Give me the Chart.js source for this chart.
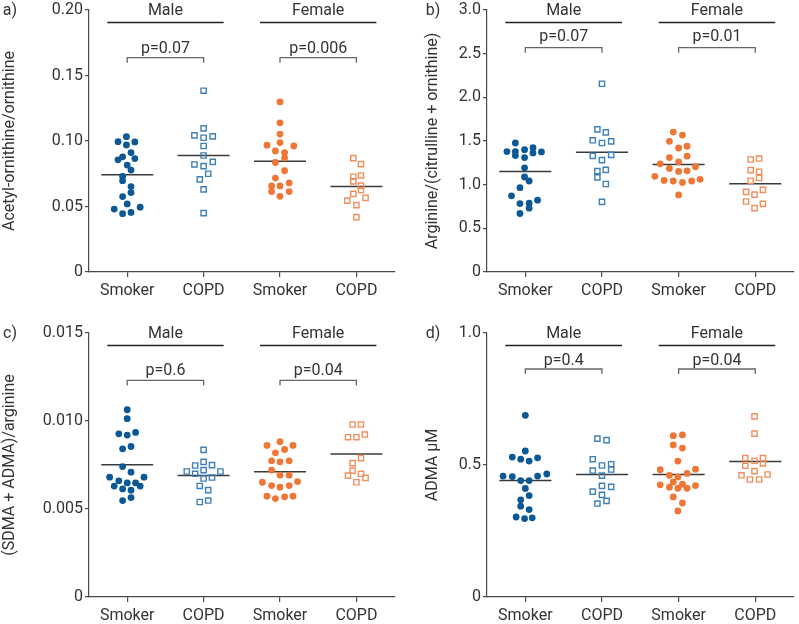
<!DOCTYPE html>
<html>
<head>
<meta charset="utf-8">
<script src="https://cdn.jsdelivr.net/npm/chart.js@4.4.1/dist/chart.umd.min.js"></script>
<style>
  body { margin: 0; background: #fff; }
  #wrap { position: relative; width: 799px; height: 624px; }
  canvas { position: absolute; }
</style>
</head>
<body>
<div id="wrap">
  <canvas id="graficoA" width="400" height="305" style="left:0;top:0"></canvas>
  <canvas id="graficoB" width="399" height="305" style="left:400px;top:0"></canvas>
  <canvas id="graficoC" width="400" height="319" style="left:0;top:305px"></canvas>
  <canvas id="graficoD" width="399" height="319" style="left:400px;top:305px"></canvas>
</div>
<script>
// categorias e grupos
const categories = ["Smoker", "COPD", "Smoker", "COPD"];
const groups = ["Male", "Female"];
const xTickValues = [1, 2, 3, 4];

/* =======================
   a) Acetyl-ornithine/ornithine
======================== */
const aY = [
    [0.1033, 0.0995, 0.0970, 0.0993, 0.0912, 0.0879, 0.0856, 0.0866, 0.0816, 0.0778, 0.0730, 0.0697, 0.0652, 0.0606, 0.0576, 0.0520, 0.0480, 0.0445, 0.0455, 0.0495],
    [0.1384, 0.1096, 0.1043, 0.1025, 0.1035, 0.0962, 0.0889, 0.0821, 0.0808, 0.0841, 0.0750, 0.0707, 0.0631, 0.0449],
    [0.1298, 0.1139, 0.1053, 0.0968, 0.0988, 0.0962, 0.0924, 0.0912, 0.0871, 0.0836, 0.0773, 0.0717, 0.0680, 0.0657, 0.0657, 0.0614, 0.0614, 0.0578],
    [0.0869, 0.0823, 0.0727, 0.0737, 0.0692, 0.0659, 0.0626, 0.0596, 0.0545, 0.0566, 0.0510, 0.0419]
];
const aDx = [
    [-0.01, -0.12, -0.01, 0.10, 0.05, -0.06, -0.12, 0.10, 0, 0.05, -0.06, -0.06, 0.05, 0.05, -0.06, 0, -0.17, -0.06, 0.05, 0.17],
    [0, 0, -0.12, 0, 0.12, 0, 0, -0.12, 0, 0.12, 0.06, -0.05, 0, 0],
    [0, 0, 0, -0.17, 0, 0.18, -0.06, 0.06, 0.06, -0.06, 0.06, -0.06, 0.12, -0.11, 0, -0.11, 0.12, 0],
    [-0.04, 0.06, -0.04, 0.06, -0.04, 0.06, 0.06, -0.04, -0.12, 0.12, 0, 0]
];
const aMeans = [0.0742, 0.0889, 0.0846, 0.0652];
const aTickValues = [0, 0.05, 0.10, 0.15, 0.20];
const aTickLabels = ["0", "0.05", "0.10", "0.15", "0.20"];
const aPValues = ["p=0.07", "p=0.006"];

/* =======================
   b) Arginine/(citrulline + ornithine)
======================== */
const bY = [
    [1.477, 1.379, 1.379, 1.333, 1.401, 1.310, 1.424, 1.364, 1.375, 1.193, 1.088, 1.042, 0.966, 0.872, 0.784, 0.788, 0.822, 0.731, 0.670],
    [2.156, 1.633, 1.599, 1.508, 1.477, 1.496, 1.330, 1.281, 1.341, 1.156, 1.170, 1.083, 1.008, 0.803],
    [1.602, 1.568, 1.496, 1.420, 1.440, 1.310, 1.261, 1.326, 1.239, 1.205, 1.186, 1.152, 1.159, 1.095, 1.049, 1.042, 1.026, 1.042, 1.061, 0.883],
    [1.288, 1.299, 1.167, 1.148, 1.045, 1.076, 0.917, 0.886, 0.940, 0.807, 0.780, 0.731]
];
const bDx = [
    [-0.13, -0.24, -0.13, -0.13, -0.01, -0.01, 0.10, 0.10, 0.21, -0.01, -0.01, 0.05, -0.07, -0.18, -0.07, 0.05, 0.16, 0.05, -0.07],
    [0, -0.06, 0.05, -0.12, 0, 0.12, -0.12, 0, 0.12, -0.06, 0.05, -0.06, 0.05, 0],
    [-0.07, 0.05, -0.12, 0, 0.11, -0.12, 0, 0.11, -0.24, 0.22, -0.12, 0, 0.11, -0.31, -0.19, -0.07, 0.05, 0.17, 0.28, 0],
    [-0.06, 0.05, -0.06, 0.05, -0.06, 0.05, -0.12, -0.01, 0.10, -0.12, 0.10, -0.01]
];
const bMeans = [1.152, 1.371, 1.231, 1.011];
const bTickValues = [0, 0.5, 1.0, 1.5, 2.0, 2.5, 3.0];
const bTickLabels = ["0", "0.5", "1.0", "1.5", "2.0", "2.5", "3.0"];
const bPValues = ["p=0.07", "p=0.01"];

/* =======================
   c) (SDMA + ADMA)/arginine
======================== */
const cY = [
    [0.01064, 0.01013, 0.00927, 0.00920, 0.00935, 0.00842, 0.00855, 0.00741, 0.00709, 0.00681, 0.00681, 0.00660, 0.00648, 0.00648, 0.00630, 0.00630, 0.00614, 0.00607, 0.00565, 0.00548],
    [0.00836, 0.00768, 0.00747, 0.00749, 0.00713, 0.00700, 0.00721, 0.00713, 0.00673, 0.00679, 0.00631, 0.00607, 0.00540, 0.00548],
    [0.00882, 0.00861, 0.00861, 0.00838, 0.00819, 0.00774, 0.00768, 0.00774, 0.00721, 0.00692, 0.00692, 0.00652, 0.00633, 0.00624, 0.00633, 0.00656, 0.00573, 0.00559, 0.00569, 0.00573],
    [0.00980, 0.00980, 0.00908, 0.00908, 0.00923, 0.00789, 0.00761, 0.00718, 0.00700, 0.00690, 0.00677, 0.00652]
];
const cDx = [
    [0, 0, -0.11, 0, 0.11, -0.06, 0.05, -0.06, 0.05, -0.23, 0.22, -0.11, 0, 0.11, -0.17, 0.17, -0.06, 0.05, 0.05, -0.06],
    [0, 0, -0.11, 0.11, -0.22, -0.11, 0, 0.22, 0, 0.11, -0.05, 0.06, -0.05, 0.06],
    [0, -0.17, 0.17, 0.06, -0.06, -0.11, 0, 0.12, -0.11, 0, 0.12, -0.23, -0.11, 0, 0.12, 0.23, -0.17, -0.06, 0.06, 0.17],
    [-0.05, 0.06, -0.11, 0, 0.11, 0.06, -0.05, -0.05, 0.06, -0.11, 0.12, 0]
];
const cMeans = [0.00751, 0.00690, 0.00711, 0.00813];
const cTickValues = [0, 0.005, 0.010, 0.015];
const cTickLabels = ["0", "0.005", "0.010", "0.015"];
const cPValues = ["p=0.6", "p=0.04"];

/* =======================
   d) ADMA µM
======================== */
const dY = [
    [0.688, 0.553, 0.530, 0.522, 0.515, 0.527, 0.458, 0.456, 0.441, 0.441, 0.458, 0.466, 0.411, 0.384, 0.368, 0.344, 0.331, 0.303, 0.297, 0.300],
    [0.600, 0.594, 0.522, 0.498, 0.503, 0.479, 0.483, 0.460, 0.421, 0.417, 0.399, 0.387, 0.364, 0.354],
    [0.611, 0.614, 0.576, 0.564, 0.515, 0.482, 0.484, 0.461, 0.468, 0.455, 0.436, 0.425, 0.422, 0.427, 0.416, 0.412, 0.412, 0.379, 0.356, 0.326],
    [0.684, 0.619, 0.526, 0.516, 0.526, 0.497, 0.506, 0.477, 0.461, 0.464, 0.445, 0.445]
];
const dDx = [
    [0, 0, -0.17, -0.06, 0.05, 0.16, -0.29, -0.17, -0.06, 0.05, 0.16, 0.28, 0, 0.05, -0.06, -0.06, 0.05, -0.12, -0.01, 0.09],
    [-0.06, 0.06, -0.12, 0, 0.12, -0.12, 0.12, 0, 0, 0.12, -0.12, 0, 0.06, -0.06],
    [-0.07, 0.05, -0.07, 0.05, -0.01, -0.24, 0.22, -0.12, 0.11, -0.01, -0.07, -0.24, 0.22, 0.05, -0.12, -0.01, 0.11, -0.07, 0.05, -0.01],
    [-0.01, -0.01, -0.13, -0.01, 0.10, -0.13, 0.10, -0.01, -0.18, 0.16, -0.07, 0.05]
];
const dMeans = [0.441, 0.464, 0.464, 0.513];
const dTickValues = [0, 0.5, 1.0];
const dTickLabels = ["0", "0.5", "1.0"];
const dPValues = ["p=0.4", "p=0.04"];

// estilos de cada grupo (smoker cheio, COPD quadrado vazio)
const estilos = [
    { cor: "#0b5895", forma: "circle", cheio: true },
    { cor: "#3f80b6", forma: "rect", cheio: false },
    { cor: "#ee7636", forma: "circle", cheio: true },
    { cor: "#f08f5c", forma: "rect", cheio: false }
];

const FONTE = "Roboto, 'DejaVu Sans', sans-serif";
const COR_TEXTO = "#333";
const COR_EIXO = "#4a4a4a";

// plugin: letra do painel, Male/Female, colchetes com p-valor
const anotacoesPlugin = {
    id: "anotacoes",
    afterDraw(chart, args, opts) {
        const ctx = chart.ctx;
        const x = chart.scales.x;
        const top = chart.chartArea.top;
        ctx.save();
        ctx.font = "16px " + FONTE;
        ctx.fillStyle = COR_TEXTO;
        ctx.textAlign = "center";
        ctx.textBaseline = "middle";
        ctx.fillText(opts.letra, opts.letraX, top + 1);

        groups.forEach((g, i) => {
            const c1 = x.getPixelForValue(xTickValues[2 * i]);
            const c2 = x.getPixelForValue(xTickValues[2 * i + 1]);
            ctx.fillText(g, (c1 + c2) / 2, top + 1);

            ctx.strokeStyle = "#222";
            ctx.lineWidth = 1.3;
            ctx.beginPath();
            ctx.moveTo(c1 - 20, top + 12.5);
            ctx.lineTo(c2 + 20, top + 12.5);
            ctx.stroke();

            const by = top + opts.colcheteY;
            ctx.strokeStyle = "#666";
            ctx.beginPath();
            ctx.moveTo(c1, by + 5);
            ctx.lineTo(c1, by);
            ctx.lineTo(c2, by);
            ctx.lineTo(c2, by + 5);
            ctx.stroke();
            ctx.fillText(opts.pTextos[i], (c1 + c2) / 2, top + opts.pY);
        });
        ctx.restore();
    }
};

function montarDatasets(valores, desvios, medias) {
    const ds = [];
    valores.forEach((serie, i) => {
        const est = estilos[i];
        ds.push({
            type: "scatter",
            data: serie.map((v, j) => ({ x: xTickValues[i] + desvios[i][j], y: v })),
            pointStyle: est.forma,
            pointRadius: est.cheio ? 3.4 : 3.7,
            backgroundColor: est.cheio ? est.cor : "rgba(255,255,255,0)",
            borderColor: est.cor,
            borderWidth: est.cheio ? 0 : 1.4
        });
    });
    medias.forEach((m, i) => {
        ds.push({
            type: "line",
            data: [{ x: xTickValues[i] - 0.34, y: m }, { x: xTickValues[i] + 0.34, y: m }],
            borderColor: "#3a3a3a",
            borderWidth: 1.5,
            pointRadius: 0
        });
    });
    return ds;
}

function criarGrafico(id, p) {
    const canvas = document.getElementById(id);
    return new Chart(canvas.getContext("2d"), {
        type: "scatter",
        data: { datasets: montarDatasets(p.valores, p.desvios, p.medias) },
        plugins: [anotacoesPlugin],
        options: {
            responsive: false,
            animation: false,
            devicePixelRatio: 1,
            layout: { padding: { top: p.topo, left: 0, right: 0, bottom: 0 } },
            plugins: {
                legend: { display: false },
                tooltip: { enabled: false },
                anotacoes: {
                    letra: p.letra,
                    letraX: p.letraX,
                    colcheteY: p.colcheteY,
                    pY: p.pY,
                    pTextos: p.pTextos
                }
            },
            scales: {
                x: {
                    type: "linear",
                    min: 0.5,
                    max: 4.5,
                    afterBuildTicks: (s) => { s.ticks = xTickValues.map(v => ({ value: v })); },
                    afterFit: (s) => { s.height = p.alturaX; },
                    grid: { drawOnChartArea: false, drawTicks: true, tickLength: 5, color: COR_EIXO, lineWidth: 1.2 },
                    border: { color: COR_EIXO, width: 1.2 },
                    ticks: {
                        color: COR_TEXTO,
                        font: { family: FONTE, size: 16 },
                        padding: 4,
                        maxRotation: 0,
                        callback: (v) => categories[xTickValues.indexOf(v)]
                    }
                },
                y: {
                    min: 0,
                    max: p.ticks[p.ticks.length - 1],
                    afterBuildTicks: (s) => { s.ticks = p.ticks.map(v => ({ value: v })); },
                    afterFit: (s) => { s.width = p.larguraY; },
                    grid: { drawOnChartArea: false, drawTicks: true, tickLength: 4, color: COR_EIXO, lineWidth: 1.2 },
                    border: { color: COR_EIXO, width: 1.2 },
                    ticks: {
                        color: COR_TEXTO,
                        font: { family: FONTE, size: 16, lineHeight: 1 },
                        padding: 2,
                        callback: (v, i) => p.rotulos[i]
                    },
                    title: {
                        display: true,
                        text: p.titulo,
                        color: COR_TEXTO,
                        font: { family: FONTE, size: 16, lineHeight: 1.2 },
                        padding: { top: p.letraX - 9.6, bottom: 0 }
                    }
                }
            }
        }
    });
}

document.addEventListener("DOMContentLoaded", function () {
    criarGrafico("graficoA", {
        valores: aY, desvios: aDx, medias: aMeans, ticks: aTickValues, rotulos: aTickLabels,
        titulo: "Acetyl-ornithine/ornithine", letra: "a)", letraX: 10, pTextos: aPValues,
        topo: 8, alturaX: 33, larguraY: 89, colcheteY: 47.7, pY: 38.7
    });
    criarGrafico("graficoB", {
        valores: bY, desvios: bDx, medias: bMeans, ticks: bTickValues, rotulos: bTickLabels,
        titulo: "Arginine/(citrulline + ornithine)", letra: "b)", letraX: 33, pTextos: bPValues,
        topo: 8, alturaX: 33, larguraY: 87, colcheteY: 37.7, pY: 27
    });
    criarGrafico("graficoC", {
        valores: cY, desvios: cDx, medias: cMeans, ticks: cTickValues, rotulos: cTickLabels,
        titulo: "(SDMA + ADMA)/arginine", letra: "c)", letraX: 10, pTextos: cPValues,
        topo: 28, alturaX: 27, larguraY: 89, colcheteY: 47.4, pY: 37.7
    });
    criarGrafico("graficoD", {
        valores: dY, desvios: dDx, medias: dMeans, ticks: dTickValues, rotulos: dTickLabels,
        titulo: "ADMA µM", letra: "d)", letraX: 33, pTextos: dPValues,
        topo: 28, alturaX: 27, larguraY: 87, colcheteY: 36, pY: 27.7
    });
});
</script>
</body>
</html>
